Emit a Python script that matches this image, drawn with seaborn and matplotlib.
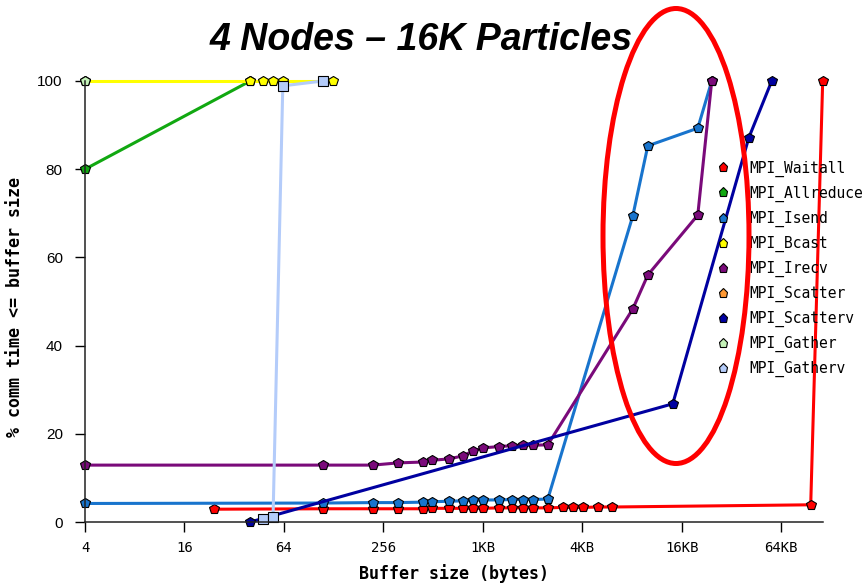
import matplotlib
matplotlib.use("Agg")
import matplotlib.pyplot as plt
import pandas as pd
import seaborn as sns
from matplotlib.lines import Line2D
from matplotlib.patches import Ellipse

# Cumulative share of communication time (%) against buffer size (bytes)
calls = ["MPI_Waitall", "MPI_Allreduce", "MPI_Isend", "MPI_Bcast", "MPI_Irecv",
         "MPI_Scatter", "MPI_Scatterv", "MPI_Gather", "MPI_Gatherv"]
colors = ["#FF0000", "#11A811", "#1874CD", "#FFFF00", "#7A0A7A",
          "#FF9933", "#0000A0", "#C4F2B8", "#B4CCFA"]

waitall_x = [24, 110, 221, 313, 444, 504, 638, 776, 892, 1024, 1280, 1534, 1788,
             2052, 2532, 3120, 3588, 4124, 5084, 6178, 98850, 116800]
waitall_y = [2.9, 3.0, 3.0, 3.0, 3.0, 3.1, 3.1, 3.1, 3.1, 3.1, 3.2, 3.2, 3.2,
             3.2, 3.2, 3.3, 3.3, 3.3, 3.4, 3.4, 3.9, 100]
allreduce_x = [4, 40]
allreduce_y = [80, 100]
isend_x = [4, 110, 221, 313, 444, 504, 638, 776, 892, 1024, 1280, 1534, 1788,
           2052, 2532, 8277, 10206, 20480, 24880]
isend_y = [4.2, 4.3, 4.4, 4.4, 4.5, 4.6, 4.7, 4.8, 4.9, 5.0, 5.0, 5.1, 5.1,
           5.1, 5.2, 69.4, 85.3, 89.3, 100]
bcast_x = [4, 40, 48, 55, 63, 127]
bcast_y = [100, 100, 100, 100, 100, 100]
irecv_x = [4, 110, 221, 313, 444, 504, 638, 776, 892, 1024, 1280, 1534, 1788,
           2052, 2532, 8277, 10206, 20480, 24880]
irecv_y = [12.9, 12.9, 12.9, 13.4, 13.6, 14.0, 14.3, 15.0, 16.1, 16.8, 17.1,
           17.3, 17.4, 17.4, 17.5, 48.3, 56.0, 69.6, 100]
scatter_x = []
scatter_y = []
scatterv_x = [40, 14450, 41680, 57400]
scatterv_y = [0.0, 26.8, 87.1, 100]
gather_x = [4]
gather_y = [100]
gatherv_x = [48, 55, 63, 110]
gatherv_y = [0.7, 1.1, 98.9, 100]

tick_vals = [4, 16, 64, 256, 1024, 4096, 16384, 65536]
tick_text = ["4", "16", "64", "256", "1KB", "4KB", "16KB", "64KB"]
y_ticks = [0, 20, 40, 60, 80, 100]

series_x = [waitall_x, allreduce_x, isend_x, bcast_x, irecv_x,
            scatter_x, scatterv_x, gather_x, gatherv_x]
series_y = [waitall_y, allreduce_y, isend_y, bcast_y, irecv_y,
            scatter_y, scatterv_y, gather_y, gatherv_y]

frames = []
for name, xs, ys in zip(calls, series_x, series_y):
    frames.append(pd.DataFrame({"bytes": xs, "pct": ys, "call": name}))
df = pd.concat(frames, ignore_index=True)

sns.set_style("white")
plt.rcParams["font.family"] = ["DejaVu Sans"]
plt.rcParams["text.color"] = "black"
plt.rcParams["axes.labelcolor"] = "black"
plt.rcParams["xtick.color"] = "black"
plt.rcParams["ytick.color"] = "black"

fig = plt.figure(figsize=(8.64, 5.83), dpi=100)
ax = fig.add_axes([85 / 864, 1 - 522 / 583, (823 - 85) / 864, (522 - 81) / 583])

for name, col in zip(calls, colors):
    sub = df[df["call"] == name]
    if sub.empty:
        continue
    marker = "s" if name == "MPI_Gatherv" else "p"
    sns.lineplot(data=sub, x="bytes", y="pct", ax=ax, color=col, linewidth=2.2,
                 marker=marker, markersize=7.8, markeredgecolor="black",
                 markeredgewidth=0.8, estimator=None, sort=False, legend=False)
    ax.lines[-1].set_clip_on(False)

ax.set_xscale("log", base=2)
ax.set_xlim(4, 2 ** 16.84)
ax.set_ylim(0, 100)
ax.set_xticks(tick_vals)
ax.set_xticklabels(tick_text)
ax.minorticks_off()
ax.set_yticks(y_ticks)
ax.set_yticklabels([str(v) for v in y_ticks])

for lbl in ax.get_xticklabels():
    lbl.set_fontfamily("DejaVu Sans Mono")
    lbl.set_fontsize(10)
for lbl in ax.get_yticklabels():
    lbl.set_fontfamily("Liberation Sans")
    lbl.set_fontsize(11)

ax.tick_params(axis="both", direction="out", length=7, width=1, color="black",
               bottom=True, left=True)
ax.tick_params(axis="x", pad=7)
ax.tick_params(axis="y", pad=9)
for side in ["top", "right"]:
    ax.spines[side].set_visible(False)
for side in ["left", "bottom"]:
    ax.spines[side].set_color("#222222")
    ax.spines[side].set_linewidth(1.1)

ax.set_xlabel("Buffer size (bytes)", fontfamily="DejaVu Sans Mono",
              fontweight="bold", fontsize=12, labelpad=6)
ax.set_ylabel("% comm time <= buffer size", fontfamily="DejaVu Sans Mono",
              fontweight="bold", fontsize=12, labelpad=6)
ax.yaxis.set_label_coords(-(85 - 24) / (823 - 85), (522 - 307) / (522 - 81))

handles = [Line2D([], [], linestyle="none", marker="p", markersize=6.5,
                  markerfacecolor=c, markeredgecolor="black", markeredgewidth=0.8)
           for c in colors]
fig.legend(handles, calls, loc="upper left",
           bbox_to_anchor=(715.7 / 864, 1 - 160.5 / 583),
           bbox_transform=fig.transFigure, frameon=False, borderpad=0,
           borderaxespad=0, handlelength=1.0, handletextpad=1.28,
           labelspacing=0.61, prop={"family": "DejaVu Sans Mono", "size": 10.5})

fig.text(421 / 864, 1 - 40 / 583, "4 Nodes \u2013 16K Particles",
         ha="center", va="center", fontsize=27, fontweight="bold",
         fontstyle="italic", fontfamily="Liberation Sans", color="black")

ring = Ellipse((676 / 864, 1 - 236 / 583), 146 / 864, 455 / 583,
               transform=fig.transFigure, fill=False, edgecolor="#FF0000",
               linewidth=3.6, zorder=10)
fig.add_artist(ring)

fig.savefig("out.png", dpi=100)
